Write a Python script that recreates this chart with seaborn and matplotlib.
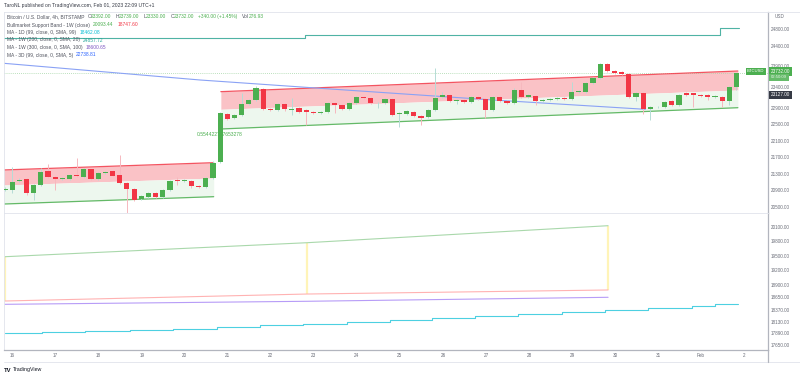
import matplotlib
matplotlib.use('Agg')
import matplotlib.pyplot as plt
import seaborn as sns

sns.set_theme(style='white')
plt.rcParams['font.family'] = ['Liberation Sans', 'DejaVu Sans']

W, H = 800, 378

# BTC/USD 4h candles (Bitstamp)
opens = [20912, 20912, 21136, 21170, 20846, 21032, 21378, 21233, 21170, 21177,
         21281, 21218, 21411, 21177, 21329, 21370, 21274, 21073, 20928, 20694,
         20750, 20846, 20750, 20912, 21153, 21122, 21136, 21015, 20991, 21194,
         21595, 22747, 22643, 22723, 22988, 23085, 23343, 22868, 22844, 22988,
         22844, 22885, 22836, 22795, 22764, 22802, 23005, 22964, 22868, 23005,
         23165, 23141, 23005, 23005, 23109, 22740, 22747, 22802, 22699, 22667,
         22844, 23150, 23213, 23068, 23085, 23044, 23150, 23102, 22844, 23165,
         23061, 23020, 23327, 23165, 23189, 23068, 23092, 23109, 23133, 23102,
         23271, 23285, 23503, 23609, 23947, 23793, 23761, 23706, 23165, 23261,
         22860, 22909, 22923, 23068, 22964, 23247, 23242, 23213, 23199, 23165,
         23165, 23068, 23392]
closes = [20936, 21112, 21165, 20846, 21032, 21353, 21233, 21170, 21201, 21281,
          21250, 21411, 21177, 21329, 21353, 21257, 21073, 20928, 20670, 20774,
          20832, 20750, 20912, 21136, 21122, 21153, 21008, 20991, 21194, 21571,
          22764, 22634, 22723, 22988, 23085, 23368, 22868, 22836, 22988, 22860,
          22856, 22802, 22788, 22764, 22795, 23005, 22957, 22868, 23005, 23165,
          23126, 23005, 23020, 23109, 22723, 22764, 22819, 22699, 22658, 22844,
          23126, 23213, 23068, 23085, 23037, 23150, 23102, 22844, 23165, 23061,
          23020, 23327, 23165, 23198, 23068, 23092, 23116, 23141, 23102, 23271,
          23302, 23503, 23609, 23954, 23793, 23744, 23713, 23165, 23261, 22860,
          22909, 22923, 23044, 22964, 23206, 23213, 23206, 23182, 23165, 23182,
          23068, 23392, 23732]
highs = [20975, 21467, 21200, 21210, 21060, 21443, 21539, 21260, 21230, 21300,
         21684, 21440, 21430, 21350, 21380, 21390, 21757, 21100, 20950, 20800,
         20860, 20870, 20930, 21160, 21230, 21180, 21160, 21040, 21215, 21600,
         22800, 22780, 22750, 23254, 23110, 23423, 23380, 22890, 23010, 23010,
         23133, 22910, 22860, 22820, 22820, 23030, 23030, 22990, 23030, 23190,
         23190, 23160, 23040, 23130, 23130, 22790, 22840, 22825, 22720, 22870,
         23851, 23290, 23240, 23110, 23110, 23175, 23175, 23125, 23190, 23190,
         23085, 23368, 23527, 23220, 23210, 23115, 23140, 23165, 23155, 23527,
         23330, 23530, 23640, 23986, 23970, 23820, 23785, 23730, 23285, 23285,
         22935, 22950, 23070, 23090, 23230, 23270, 23265, 23240, 23220, 23205,
         23190, 23420, 23739]
lows = [20890, 20839, 21110, 20800, 20670, 21010, 21210, 20912, 21150, 21160,
        21230, 21200, 21150, 21160, 21300, 21240, 21050, 20349, 20640, 20670,
        20730, 20730, 20730, 20890, 21040, 21100, 20960, 20970, 20970, 21170,
        21570, 22600, 22620, 22700, 22960, 23060, 22840, 22810, 22820, 22830,
        22723, 22780, 22481, 22740, 22740, 22780, 22771, 22840, 22845, 22980,
        23100, 22980, 22890, 22985, 22700, 22440, 22725, 22675, 22481, 22645,
        22820, 23130, 23045, 23000, 23010, 23020, 23080, 22650, 22820, 23040,
        23000, 23000, 23140, 23140, 22960, 23045, 23070, 23085, 23080, 23080,
        23250, 23260, 23480, 23585, 23770, 23720, 23690, 23140, 23060, 22747,
        22602, 22885, 22900, 22940, 22940, 23190, 22916, 23160, 23080, 23140,
        22923, 22960, 23330]
last_price = 23732

# parallel channels (bar index, price)
chan_a_x = [-0.2, 29.1]
chan_a_top = [21395, 21571]
chan_a_mid = [21032, 21201]
chan_a_bot = [20573, 20750]
chan_b_x = [30.1, 102.2]
chan_b_top = [23286, 23785]
chan_b_mid = [22860, 23327]
chan_b_bot = [22385, 22899]
chan_label = '0.554422777653278'

# MA 1W (200) - top pane, stepped
ma1w200_x = [-0.7, 41.8, 99.7, 102.3]
ma1w200 = [24582, 24650, 24830, 24830]
# MA 3D (99)
ma3d_x = [-0.7, 27.2, 43.9, 68.1, 89.3]
ma3d = [23979, 23568, 23368, 23085, 22860]

# lower pane: bull market support band + MAs
band_x = [0, 42.1, 84.1]
band_hi = [19482, 19773, 20127]
band_lo = [18561, 18706, 18790]
ma1w300 = [18492, 18555, 18638]
ma1d_x = [0, 5.2, 11.2, 17.4, 23.4, 29.6, 35.6, 41.6, 47.7, 53.7, 59.6,
          65.6, 71.5, 77.7, 83.7, 89.7, 95.8, 99.0, 102.2]
ma1d = [17889, 17916, 17937, 17964, 17985, 18014, 18055, 18089, 18130, 18166,
        18201, 18243, 18284, 18326, 18380, 18409, 18451, 18492, 18492]

top_ticks = [24800, 24400, 23900, 23400, 22900, 22500, 22100, 21700, 21300, 20900, 20500]
bot_ticks = [20100, 19800, 19500, 19200, 18900, 18650, 18370, 18130, 17890, 17650]
day_labels = ['16', '17', '18', '19', '20', '21', '22', '23', '24', '25', '26',
              '27', '28', '29', '30', '31', 'Feb', '2']

GREEN = '#4caf50'
RED = '#f23645'
TXT = '#50535e'
AX = '#6a6d78'

fig = plt.figure(figsize=(W / 100, H / 100), dpi=100, facecolor='white')
renderer = fig.canvas.get_renderer()


def rect(x0, y0, x1, y1):
    return [x0 / W, 1 - y1 / H, (x1 - x0) / W, (y1 - y0) / H]


def ftext(x, y, s, color=TXT, size=3.7, **kw):
    return fig.text(x / W, 1 - y / H, s, color=color, fontsize=size, va='center', ha='left', **kw)


ax1 = fig.add_axes(rect(4, 12, 768, 213))
ax2 = fig.add_axes(rect(4, 213, 768, 350))
xlim = (-0.14, 106.4)
for ax in (ax1, ax2):
    ax.set_xlim(*xlim)
    ax.set_facecolor('white')
    for s in ax.spines.values():
        s.set_color('#e0e3eb')
        s.set_linewidth(0.6)
    ax.spines['right'].set_color('#b2b5be')
    ax.spines['right'].set_linewidth(0.9)
    ax.yaxis.tick_right()
    ax.tick_params(axis='y', length=0, pad=1.8, labelsize=3.3, labelcolor=AX)
ax1.set_ylim(20356, 25210)
ax2.set_ylim(17542, 20391)
ax2.spines['bottom'].set_color('#b2b5be')
ax2.spines['bottom'].set_linewidth(0.9)

# channels
for cx, top, mid, bot in [(chan_a_x, chan_a_top, chan_a_mid, chan_a_bot),
                          (chan_b_x, chan_b_top, chan_b_mid, chan_b_bot)]:
    ax1.fill_between(cx, mid, top, color='#fac2c6', lw=0, zorder=1)
    ax1.fill_between(cx, bot, mid, color='#edf7ee', lw=0, zorder=1)
    sns.lineplot(x=cx, y=top, ax=ax1, color=RED, lw=0.9, alpha=0.85, zorder=2)
    sns.lineplot(x=cx, y=bot, ax=ax1, color=GREEN, lw=0.9, alpha=0.85, zorder=2)
ax1.text(26.8, 22240, chan_label, color=GREEN, fontsize=3.6, va='center', ha='left', zorder=2)

# moving averages, top pane
sns.lineplot(x=ma1w200_x, y=ma1w200, ax=ax1, color='#4fb3a4', lw=0.8,
             drawstyle='steps-post', sort=False, zorder=2)
sns.lineplot(x=ma3d_x, y=ma3d, ax=ax1, color='#8aa2f5', lw=0.8, zorder=2.5)
ax1.axhline(last_price, color='#a5d6a7', lw=0.6, ls=(0, (1, 1.5)), zorder=1.5)

# candles
for i, (o, h, l, c) in enumerate(zip(opens, highs, lows, closes)):
    up = c >= o
    ax1.vlines(i, l, h, color='#b5dcd6' if up else '#f6b8be', lw=0.7, zorder=3)
    ax1.bar(i, max(abs(c - o), 18), bottom=min(o, c), width=0.72,
            color=GREEN if up else RED, lw=0, zorder=4)

# lower pane
for bx, hi, lo in zip(band_x, band_hi, band_lo):
    ax2.vlines(bx, lo, hi, color='#fff4b8', lw=1.6, zorder=1)
sns.lineplot(x=band_x, y=band_hi, ax=ax2, color='#a9d8ab', lw=0.8, zorder=2)
sns.lineplot(x=band_x, y=band_lo, ax=ax2, color='#ffb2b2', lw=0.8, zorder=2)
sns.lineplot(x=band_x, y=ma1w300, ax=ax2, color='#b79cf7', lw=0.8, zorder=2)
sns.lineplot(x=ma1d_x, y=ma1d, ax=ax2, color='#4dd0e1', lw=0.8,
             drawstyle='steps-post', sort=False, zorder=2)
for ax in (ax1, ax2):
    ax.set_xlabel('')
    ax.set_ylabel('')

ax1.set_yticks(top_ticks)
ax1.set_yticklabels([f'{v:.2f}' for v in top_ticks])
ax2.set_yticks(bot_ticks)
ax2.set_yticklabels([f'{v:.2f}' for v in bot_ticks])
ax1.set_xticks([])
ax2.set_xticks([1.07 + 6 * k for k in range(len(day_labels))])
ax2.set_xticklabels(day_labels)
ax2.tick_params(axis='x', length=0, pad=2.0, labelsize=3.3, labelcolor=AX)

# frame lines outside axes
fig.add_artist(plt.Line2D([4 / W, 1], [1 - 362 / H] * 2, color='#e0e3eb', lw=0.6))
fig.add_artist(plt.Line2D([768 / W] * 2, [1 - 362 / H, 1 - 350 / H], color='#b2b5be', lw=0.9))
fig.add_artist(plt.Line2D([768 / W, 1], [1 - 12 / H] * 2, color='#e0e3eb', lw=0.6))

# header and legend
ftext(4, 6, 'TaroNL published on TradingView.com, Feb 01, 2023 22:09 UTC+1', color='#363a45', size=3.6)
legend_rows = [
    (16.7, [('Bitcoin / U.S. Dollar, 4h, BITSTAMP', TXT, 3), ('O', TXT, 0), ('23392.00', GREEN, 4),
            ('H', TXT, 0), ('23739.00', GREEN, 4), ('L', TXT, 0), ('23330.00', GREEN, 4),
            ('C', TXT, 0), ('23732.00', GREEN, 4), ('+340.00 (+1.45%)', GREEN, 4),
            ('Vol', TXT, 0), ('276.93', GREEN, 0)]),
    (25, [('Bullmarket Support Band - 1W (close)', TXT, 3), ('20093.44', GREEN, 4), ('18747.60', RED, 0)]),
    (32.7, [('MA - 1D (99, close, 0, SMA, 99)', TXT, 3), ('18462.08', '#00bcd4', 0)]),
    (40, [('MA - 1W (200, close, 0, SMA, 20)', TXT, 3), ('24857.72', '#26a69a', 0)]),
    (47.7, [('MA - 1W (300, close, 0, SMA, 100)', TXT, 3), ('18600.65', '#7e57c2', 0)]),
    (55, [('MA - 3D (99, close, 0, SMA, 5)', TXT, 3), ('22738.81', '#2962ff', 0)]),
]
for y, parts in legend_rows:
    x = 7
    for s, col, gap in parts:
        t = ftext(x, y, s, color=col, size=3.5)
        x = t.get_window_extent(renderer).x1 + gap

# price axis labels
ftext(775, 16, 'USD', color=AX, size=3.3)
box = dict(boxstyle='square,pad=0.35', lw=0)
ftext(747, 71.5, 'BTCUSD', color='white', size=3.0, bbox=dict(box, facecolor=GREEN))
ftext(771, 71.5, f'{last_price:.2f}', color='white', size=3.3, bbox=dict(box, facecolor=GREEN))
ftext(771, 77.5, '02:50:09', color='#e8f5e9', size=3.1, bbox=dict(box, facecolor='#66bb6a'))
ftext(771, 95, '23127.00', color='white', size=3.3, bbox=dict(box, facecolor='#363a45'))

# footer logo
ftext(4, 370, 'TV', color='#131722', size=4.2, fontweight='bold')
ftext(13, 370, 'TradingView', color='#131722', size=3.8)

fig.savefig('out.png', dpi=100, facecolor='white')
